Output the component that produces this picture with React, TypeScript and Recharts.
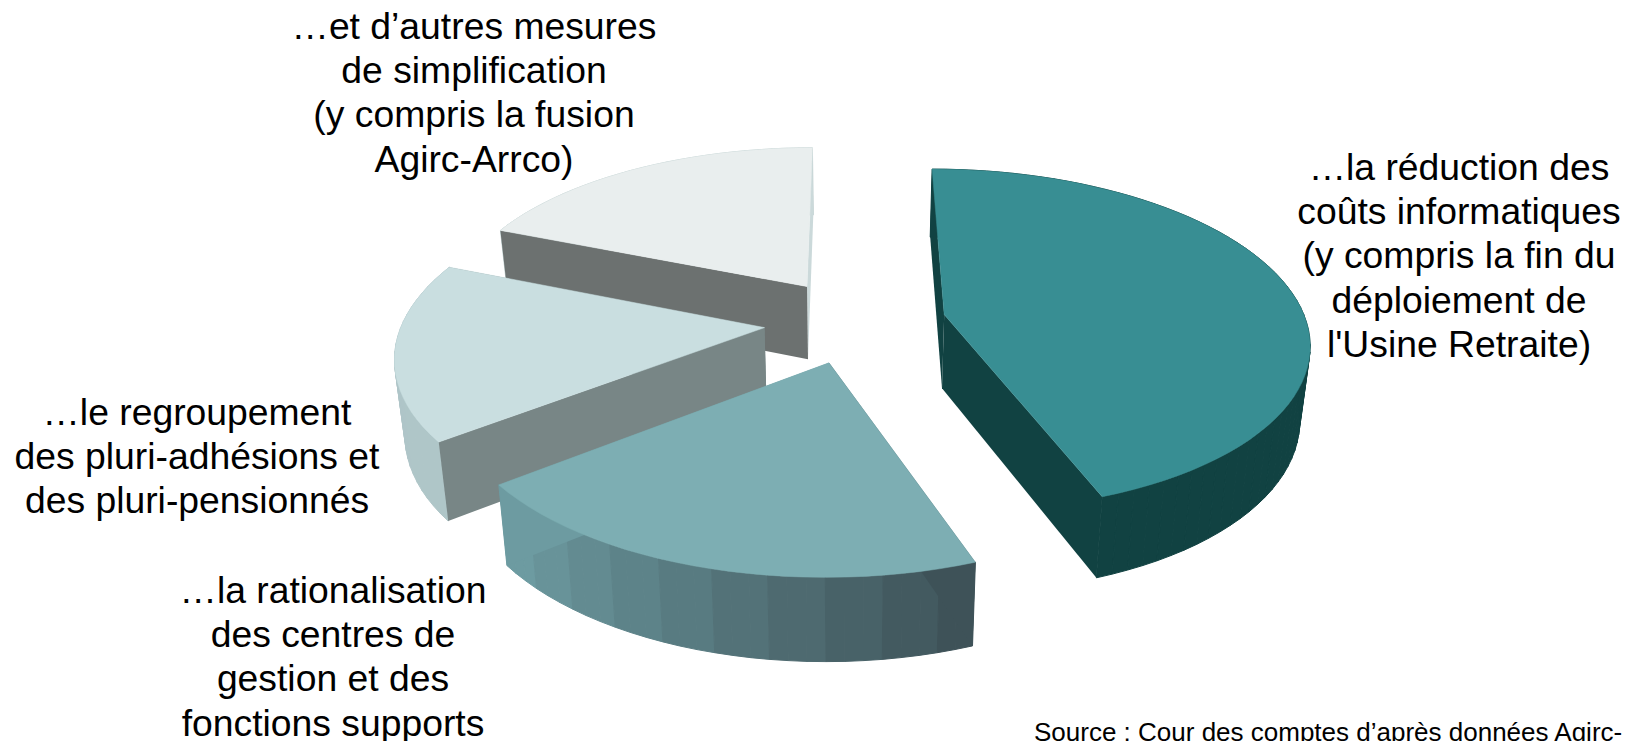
import React from "react";
import { PieChart, Pie } from "recharts";

// ---- data (rearmost slice first, so that it is painted first)
const categories = ["autres", "regroupement", "rationalisation", "informatique"];
const shares = [18.9, 16.5, 20.1, 44.4];

const topLabel = ["…et d’autres mesures", "de simplification", "(y compris la fusion", "Agirc-Arrco)"];
const rightLabel = ["…la réduction des", "coûts informatiques", "(y compris la fin du", "déploiement de", "l'Usine Retraite)"];
const leftLabel = ["…le regroupement", "des pluri-adhésions et", "des pluri-pensionnés"];
const bottomLabel = ["…la rationalisation", "des centres de", "gestion et des", "fonctions supports"];
const sourceText = "Source : Cour des comptes d’après données Agirc-";

// ---- styles
const topColors: Record<string, string> = {
  autres: "#E9EEEE", regroupement: "#C9DEE0", rationalisation: "#7DAEB3", informatique: "#388E93",
};
const startFaceColors: Record<string, string> = {
  autres: "#CBD9DA", regroupement: "#788686", rationalisation: "#6D9BA1", informatique: "#114242",
};
const endFaceColors: Record<string, string> = {
  autres: "#6C7170", regroupement: "#788686", rationalisation: "#3E5258", informatique: "#114242",
};
const wallFrom: Record<string, string> = {
  autres: "#C0D0D0", regroupement: "#AFC4C8", rationalisation: "#6D9BA1", informatique: "#114242",
};
const wallTo: Record<string, string> = {
  autres: "#C0D0D0", regroupement: "#AFC6C8", rationalisation: "#3E5258", informatique: "#114242",
};
// explosion of each slice, in units of the pie radius (x to the right, y towards the back)
const explode: Record<string, [number, number]> = {
  autres: [-0.1226, 0.272],
  regroupement: [-0.235, 0.023],
  rationalisation: [-0.056, -0.177],
  informatique: [0.262, 0.1],
};

const CX = 850;
const CY = 331.5;
const RADIUS = 365;
const RY = 172;
const PERSPECTIVE = 0.15;

const hex = (c: string) => [1, 3, 5].map((i) => parseInt(c.slice(i, i + 2), 16));
const mix = (a: string, b: string, t: number) => {
  const A = hex(a);
  const B = hex(b);
  return `rgb(${A.map((v, i) => Math.round(v + (B[i] - v) * t)).join(",")})`;
};

function Slice3D(props: any) {
  const { cx, cy, outerRadius, startAngle, endAngle, payload, name } = props;
  const key = payload?.name ?? name;
  const [ox, oy] = explode[key];
  const ry = (RY / RADIUS) * outerRadius;
  const top = (wx: number, wy: number) => {
    const f = 1 / (1 + PERSPECTIVE * wy);
    return [cx + outerRadius * wx * f, cy - ry * wy * f];
  };
  const low = (p: number[]) => [cx + 0.977 * (p[0] - cx), 1.04 * p[1] + 61.2];
  const onRim = (deg: number) => {
    const a = (deg * Math.PI) / 180;
    return top(ox + Math.cos(a), oy + Math.sin(a));
  };
  const apex = top(ox, oy);
  const path = (pts: number[][]) =>
    "M" + pts.map((p) => `${p[0].toFixed(1)},${p[1].toFixed(1)}`).join("L") + "Z";

  const n = Math.max(8, Math.round((endAngle - startAngle) / 2.5));
  const angles = Array.from({ length: n + 1 }, (_, i) => startAngle + ((endAngle - startAngle) * i) / n);
  const rim = angles.map(onRim);

  const walls = rim.slice(0, -1).map((p, i) => {
    const q = rim[i + 1];
    const band = Math.floor(i / 3) / Math.max(1, Math.floor((n - 1) / 3));
    const color = mix(wallFrom[key], wallTo[key], band);
    return <path key={i} d={path([p, q, low(q), low(p)])} fill={color} stroke={color} strokeWidth={1} />;
  });

  const s = rim[0];
  const e = rim[n];
  return (
    <g>
      {walls}
      <path d={path([apex, s, low(s), low(apex)])} fill={startFaceColors[key]} />
      <path d={path([apex, e, low(e), low(apex)])} fill={endFaceColors[key]} />
      <path d={path([apex, ...rim])} fill={topColors[key]} stroke={topColors[key]} strokeWidth={0.5} />
    </g>
  );
}

const tableRows = categories.map((name, i) => ({ name, value: shares[i] }));

const textStyle = { fontFamily: "'Liberation Sans', Arial, sans-serif", fill: "#000" };

function Block({ lines, x, y, size = 37.3, step = 44.2 }: { lines: string[]; x: number; y: number; size?: number; step?: number }) {
  return (
    <text x={x} y={y} textAnchor="middle" fontSize={size} style={textStyle}>
      {lines.map((l, i) => (
        <tspan key={i} x={x} y={y + i * step}>{l}</tspan>
      ))}
    </text>
  );
}

export default function App() {
  return (
    <div style={{ position: "absolute", left: 0, top: 0, width: 1631, height: 741, overflow: "hidden", background: "#fff" }}>
      <PieChart width={1631} height={741} margin={{ top: 0, right: 0, bottom: 0, left: 0 }}>
        <Pie
          data={tableRows}
          dataKey="value"
          nameKey="name"
          cx={CX}
          cy={CY}
          outerRadius={RADIUS}
          innerRadius={0}
          startAngle={90}
          endAngle={450}
          stroke="none"
          isAnimationActive={false}
          shape={Slice3D}
        />
        <Block lines={topLabel} x={474} y={39} />
        <Block lines={rightLabel} x={1459} y={180} />
        <Block lines={leftLabel} x={197} y={425} />
        <Block lines={bottomLabel} x={333} y={603} />
        <text x={1034} y={741} fontSize={26} style={textStyle}>{sourceText}</text>
      </PieChart>
    </div>
  );
}
